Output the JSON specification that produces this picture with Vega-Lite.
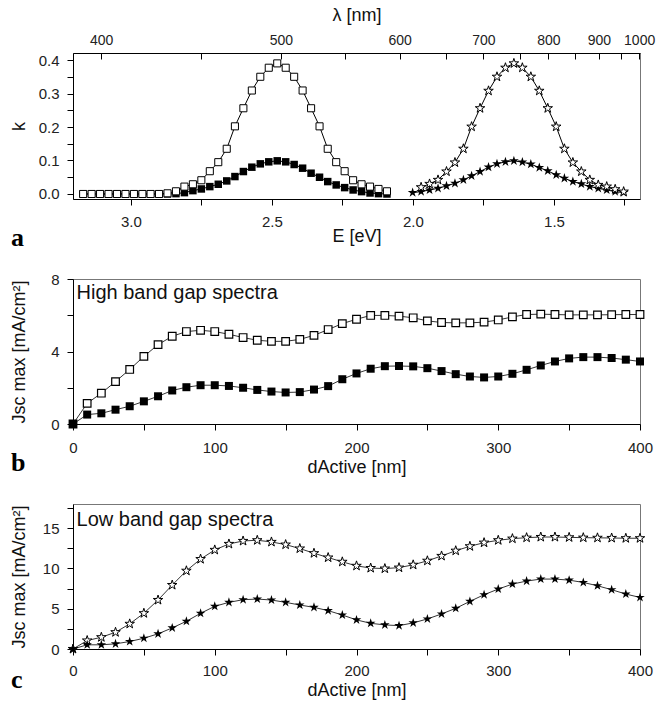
{
"$schema": "https://vega.github.io/schema/vega-lite/v6.json",
"padding": {"left": 9, "top": 5, "right": 5, "bottom": 5},
"background": "white",
"config": {
  "view": {"stroke": "#777", "strokeWidth": 1},
  "axis": {"labelFont": "Liberation Sans", "labelFontSize": 15, "labelColor": "#222", "titleFont": "Liberation Sans", "titleFontSize": 18, "titleFontWeight": "normal", "titleColor": "#111", "domainColor": "#000", "tickColor": "#000", "grid": false, "labelPadding": 8, "tickWidth": 1, "domainWidth": 1, "tickSize": 6, "labelOverlap": false, "labelBound": false, "labelFlush": false},
  "title": {"font": "Liberation Serif", "fontWeight": "bold", "fontSize": 26, "color": "#000"}
},
"datasets": {
  "spectra": [
    {"E":3.169,"k":0,"s":"osq"},{"E":3.139,"k":0,"s":"osq"},{"E":3.109,"k":0,"s":"osq"},{"E":3.079,"k":0,"s":"osq"},{"E":3.049,"k":0,"s":"osq"},{"E":3.019,"k":0,"s":"osq"},{"E":2.989,"k":0,"s":"osq"},{"E":2.959,"k":0,"s":"osq"},{"E":2.930,"k":0,"s":"osq"},{"E":2.900,"k":0,"s":"osq"},{"E":2.870,"k":0.002,"s":"osq"},{"E":2.840,"k":0.008,"s":"osq"},{"E":2.810,"k":0.022,"s":"osq"},{"E":2.780,"k":0.029,"s":"osq"},{"E":2.750,"k":0.041,"s":"osq"},{"E":2.720,"k":0.068,"s":"osq"},{"E":2.690,"k":0.095,"s":"osq"},{"E":2.660,"k":0.135,"s":"osq"},{"E":2.631,"k":0.202,"s":"osq"},{"E":2.601,"k":0.256,"s":"osq"},{"E":2.571,"k":0.309,"s":"osq"},{"E":2.541,"k":0.350,"s":"osq"},{"E":2.511,"k":0.377,"s":"osq"},{"E":2.481,"k":0.390,"s":"osq"},{"E":2.451,"k":0.377,"s":"osq"},{"E":2.421,"k":0.350,"s":"osq"},{"E":2.391,"k":0.309,"s":"osq"},{"E":2.361,"k":0.256,"s":"osq"},{"E":2.331,"k":0.202,"s":"osq"},{"E":2.302,"k":0.135,"s":"osq"},{"E":2.272,"k":0.095,"s":"osq"},{"E":2.242,"k":0.068,"s":"osq"},{"E":2.212,"k":0.041,"s":"osq"},{"E":2.182,"k":0.029,"s":"osq"},{"E":2.152,"k":0.022,"s":"osq"},{"E":2.122,"k":0.015,"s":"osq"},{"E":2.092,"k":0.008,"s":"osq"},
    {"E":3.169,"k":0,"s":"csq"},{"E":3.139,"k":0,"s":"csq"},{"E":3.109,"k":0,"s":"csq"},{"E":3.079,"k":0,"s":"csq"},{"E":3.049,"k":0,"s":"csq"},{"E":3.019,"k":0,"s":"csq"},{"E":2.989,"k":0,"s":"csq"},{"E":2.959,"k":0,"s":"csq"},{"E":2.930,"k":0,"s":"csq"},{"E":2.900,"k":0,"s":"csq"},{"E":2.870,"k":0,"s":"csq"},{"E":2.840,"k":0.001,"s":"csq"},{"E":2.810,"k":0.004,"s":"csq"},{"E":2.780,"k":0.010,"s":"csq"},{"E":2.750,"k":0.015,"s":"csq"},{"E":2.720,"k":0.022,"s":"csq"},{"E":2.690,"k":0.029,"s":"csq"},{"E":2.660,"k":0.039,"s":"csq"},{"E":2.631,"k":0.052,"s":"csq"},{"E":2.601,"k":0.067,"s":"csq"},{"E":2.571,"k":0.080,"s":"csq"},{"E":2.541,"k":0.090,"s":"csq"},{"E":2.511,"k":0.096,"s":"csq"},{"E":2.481,"k":0.099,"s":"csq"},{"E":2.451,"k":0.096,"s":"csq"},{"E":2.421,"k":0.088,"s":"csq"},{"E":2.391,"k":0.077,"s":"csq"},{"E":2.361,"k":0.062,"s":"csq"},{"E":2.331,"k":0.050,"s":"csq"},{"E":2.302,"k":0.037,"s":"csq"},{"E":2.272,"k":0.027,"s":"csq"},{"E":2.242,"k":0.019,"s":"csq"},{"E":2.212,"k":0.012,"s":"csq"},{"E":2.182,"k":0.007,"s":"csq"},{"E":2.152,"k":0.003,"s":"csq"},{"E":2.122,"k":0.001,"s":"csq"},{"E":2.092,"k":0,"s":"csq"},
    {"E":1.971,"k":0.020,"s":"ost"},{"E":1.941,"k":0.030,"s":"ost"},{"E":1.911,"k":0.042,"s":"ost"},{"E":1.881,"k":0.067,"s":"ost"},{"E":1.851,"k":0.094,"s":"ost"},{"E":1.821,"k":0.135,"s":"ost"},{"E":1.792,"k":0.201,"s":"ost"},{"E":1.762,"k":0.256,"s":"ost"},{"E":1.732,"k":0.308,"s":"ost"},{"E":1.702,"k":0.350,"s":"ost"},{"E":1.672,"k":0.377,"s":"ost"},{"E":1.642,"k":0.390,"s":"ost"},{"E":1.612,"k":0.377,"s":"ost"},{"E":1.582,"k":0.350,"s":"ost"},{"E":1.552,"k":0.308,"s":"ost"},{"E":1.522,"k":0.256,"s":"ost"},{"E":1.492,"k":0.201,"s":"ost"},{"E":1.463,"k":0.135,"s":"ost"},{"E":1.433,"k":0.094,"s":"ost"},{"E":1.403,"k":0.067,"s":"ost"},{"E":1.373,"k":0.042,"s":"ost"},{"E":1.343,"k":0.027,"s":"ost"},{"E":1.313,"k":0.022,"s":"ost"},{"E":1.283,"k":0.014,"s":"ost"},{"E":1.253,"k":0.007,"s":"ost"},
    {"E":2.001,"k":0.004,"s":"cst"},{"E":1.971,"k":0.007,"s":"cst"},{"E":1.941,"k":0.012,"s":"cst"},{"E":1.911,"k":0.017,"s":"cst"},{"E":1.881,"k":0.024,"s":"cst"},{"E":1.851,"k":0.032,"s":"cst"},{"E":1.821,"k":0.042,"s":"cst"},{"E":1.792,"k":0.054,"s":"cst"},{"E":1.762,"k":0.067,"s":"cst"},{"E":1.732,"k":0.080,"s":"cst"},{"E":1.702,"k":0.090,"s":"cst"},{"E":1.672,"k":0.096,"s":"cst"},{"E":1.642,"k":0.099,"s":"cst"},{"E":1.612,"k":0.095,"s":"cst"},{"E":1.582,"k":0.089,"s":"cst"},{"E":1.552,"k":0.079,"s":"cst"},{"E":1.522,"k":0.069,"s":"cst"},{"E":1.492,"k":0.057,"s":"cst"},{"E":1.463,"k":0.047,"s":"cst"},{"E":1.433,"k":0.037,"s":"cst"},{"E":1.403,"k":0.030,"s":"cst"},{"E":1.373,"k":0.022,"s":"cst"},{"E":1.343,"k":0.017,"s":"cst"},{"E":1.313,"k":0.012,"s":"cst"},{"E":1.283,"k":0.007,"s":"cst"},{"E":1.253,"k":0.004,"s":"cst"}
  ],
  "high": [
    {"d":0,"J":0,"s":"o"},{"d":10,"J":1.14,"s":"o"},{"d":20,"J":1.70,"s":"o"},{"d":30,"J":2.34,"s":"o"},{"d":40,"J":3.01,"s":"o"},{"d":50,"J":3.73,"s":"o"},{"d":60,"J":4.38,"s":"o"},{"d":70,"J":4.84,"s":"o"},{"d":80,"J":5.10,"s":"o"},{"d":90,"J":5.17,"s":"o"},{"d":100,"J":5.10,"s":"o"},{"d":110,"J":4.95,"s":"o"},{"d":120,"J":4.77,"s":"o"},{"d":130,"J":4.62,"s":"o"},{"d":140,"J":4.56,"s":"o"},{"d":150,"J":4.56,"s":"o"},{"d":160,"J":4.67,"s":"o"},{"d":170,"J":4.89,"s":"o"},{"d":180,"J":5.21,"s":"o"},{"d":190,"J":5.54,"s":"o"},{"d":200,"J":5.78,"s":"o"},{"d":210,"J":5.99,"s":"o"},{"d":220,"J":5.99,"s":"o"},{"d":230,"J":5.95,"s":"o"},{"d":240,"J":5.86,"s":"o"},{"d":250,"J":5.69,"s":"o"},{"d":260,"J":5.60,"s":"o"},{"d":270,"J":5.58,"s":"o"},{"d":280,"J":5.58,"s":"o"},{"d":290,"J":5.62,"s":"o"},{"d":300,"J":5.74,"s":"o"},{"d":310,"J":5.91,"s":"o"},{"d":320,"J":6.04,"s":"o"},{"d":330,"J":6.06,"s":"o"},{"d":340,"J":6.04,"s":"o"},{"d":350,"J":6.02,"s":"o"},{"d":360,"J":6.02,"s":"o"},{"d":370,"J":6.02,"s":"o"},{"d":380,"J":6.03,"s":"o"},{"d":390,"J":6.04,"s":"o"},{"d":400,"J":6.04,"s":"o"},
    {"d":0,"J":0,"s":"c"},{"d":10,"J":0.52,"s":"c"},{"d":20,"J":0.59,"s":"c"},{"d":30,"J":0.79,"s":"c"},{"d":40,"J":0.98,"s":"c"},{"d":50,"J":1.25,"s":"c"},{"d":60,"J":1.53,"s":"c"},{"d":70,"J":1.85,"s":"c"},{"d":80,"J":2.03,"s":"c"},{"d":90,"J":2.14,"s":"c"},{"d":100,"J":2.14,"s":"c"},{"d":110,"J":2.10,"s":"c"},{"d":120,"J":2.00,"s":"c"},{"d":130,"J":1.88,"s":"c"},{"d":140,"J":1.79,"s":"c"},{"d":150,"J":1.74,"s":"c"},{"d":160,"J":1.76,"s":"c"},{"d":170,"J":1.90,"s":"c"},{"d":180,"J":2.09,"s":"c"},{"d":190,"J":2.47,"s":"c"},{"d":200,"J":2.79,"s":"c"},{"d":210,"J":3.05,"s":"c"},{"d":220,"J":3.19,"s":"c"},{"d":230,"J":3.20,"s":"c"},{"d":240,"J":3.18,"s":"c"},{"d":250,"J":3.08,"s":"c"},{"d":260,"J":2.92,"s":"c"},{"d":270,"J":2.75,"s":"c"},{"d":280,"J":2.62,"s":"c"},{"d":290,"J":2.57,"s":"c"},{"d":300,"J":2.62,"s":"c"},{"d":310,"J":2.77,"s":"c"},{"d":320,"J":2.99,"s":"c"},{"d":330,"J":3.23,"s":"c"},{"d":340,"J":3.45,"s":"c"},{"d":350,"J":3.62,"s":"c"},{"d":360,"J":3.69,"s":"c"},{"d":370,"J":3.69,"s":"c"},{"d":380,"J":3.64,"s":"c"},{"d":390,"J":3.55,"s":"c"},{"d":400,"J":3.45,"s":"c"}
  ],
  "low": [
    {"d":0,"J":0,"s":"o"},{"d":10,"J":1.05,"s":"o"},{"d":20,"J":1.46,"s":"o"},{"d":30,"J":2.08,"s":"o"},{"d":40,"J":3.12,"s":"o"},{"d":50,"J":4.44,"s":"o"},{"d":60,"J":6.08,"s":"o"},{"d":70,"J":7.94,"s":"o"},{"d":80,"J":9.71,"s":"o"},{"d":90,"J":11.16,"s":"o"},{"d":100,"J":12.30,"s":"o"},{"d":110,"J":13.04,"s":"o"},{"d":120,"J":13.41,"s":"o"},{"d":130,"J":13.50,"s":"o"},{"d":140,"J":13.29,"s":"o"},{"d":150,"J":12.96,"s":"o"},{"d":160,"J":12.47,"s":"o"},{"d":170,"J":11.89,"s":"o"},{"d":180,"J":11.35,"s":"o"},{"d":190,"J":10.82,"s":"o"},{"d":200,"J":10.32,"s":"o"},{"d":210,"J":10.05,"s":"o"},{"d":220,"J":9.98,"s":"o"},{"d":230,"J":10.10,"s":"o"},{"d":240,"J":10.45,"s":"o"},{"d":250,"J":10.95,"s":"o"},{"d":260,"J":11.55,"s":"o"},{"d":270,"J":12.20,"s":"o"},{"d":280,"J":12.75,"s":"o"},{"d":290,"J":13.20,"s":"o"},{"d":300,"J":13.50,"s":"o"},{"d":310,"J":13.70,"s":"o"},{"d":320,"J":13.82,"s":"o"},{"d":330,"J":13.90,"s":"o"},{"d":340,"J":13.90,"s":"o"},{"d":350,"J":13.86,"s":"o"},{"d":360,"J":13.82,"s":"o"},{"d":370,"J":13.80,"s":"o"},{"d":380,"J":13.78,"s":"o"},{"d":390,"J":13.75,"s":"o"},{"d":400,"J":13.75,"s":"o"},
    {"d":0,"J":0,"s":"c"},{"d":10,"J":0.52,"s":"c"},{"d":20,"J":0.52,"s":"c"},{"d":30,"J":0.64,"s":"c"},{"d":40,"J":0.93,"s":"c"},{"d":50,"J":1.34,"s":"c"},{"d":60,"J":1.88,"s":"c"},{"d":70,"J":2.62,"s":"c"},{"d":80,"J":3.44,"s":"c"},{"d":90,"J":4.43,"s":"c"},{"d":100,"J":5.30,"s":"c"},{"d":110,"J":5.79,"s":"c"},{"d":120,"J":6.12,"s":"c"},{"d":130,"J":6.20,"s":"c"},{"d":140,"J":6.08,"s":"c"},{"d":150,"J":5.79,"s":"c"},{"d":160,"J":5.46,"s":"c"},{"d":170,"J":5.17,"s":"c"},{"d":180,"J":4.76,"s":"c"},{"d":190,"J":4.22,"s":"c"},{"d":200,"J":3.61,"s":"c"},{"d":210,"J":3.19,"s":"c"},{"d":220,"J":2.99,"s":"c"},{"d":230,"J":2.90,"s":"c"},{"d":240,"J":3.24,"s":"c"},{"d":250,"J":3.73,"s":"c"},{"d":260,"J":4.35,"s":"c"},{"d":270,"J":5.05,"s":"c"},{"d":280,"J":5.91,"s":"c"},{"d":290,"J":6.74,"s":"c"},{"d":300,"J":7.44,"s":"c"},{"d":310,"J":8.06,"s":"c"},{"d":320,"J":8.43,"s":"c"},{"d":330,"J":8.68,"s":"c"},{"d":340,"J":8.68,"s":"c"},{"d":350,"J":8.55,"s":"c"},{"d":360,"J":8.26,"s":"c"},{"d":370,"J":7.85,"s":"c"},{"d":380,"J":7.36,"s":"c"},{"d":390,"J":6.82,"s":"c"},{"d":400,"J":6.40,"s":"c"}
  ]
},
"spacing": 80,
"bounds": "flush",
"vconcat": [
  {
    "width": 567, "height": 146,
    "data": {"name": "spectra"},
    "title": {"text": "a", "orient": "bottom", "anchor": "start", "frame": "group", "dx": -62, "offset": -20},
    "resolve": {"axis": {"x": "independent"}},
    "layer": [
      {
        "encoding": {
          "x": {"field": "E", "type": "quantitative", "scale": {"domain": [1.195, 3.205], "reverse": true, "nice": false, "zero": false},
                "axis": {"orient": "bottom", "title": "E [eV]", "values": [3.0, 2.75, 2.5, 2.25, 2.0, 1.75, 1.5, 1.25], "labelExpr": "datum.value*2 % 1 == 0 ? format(datum.value, '.1f') : ''", "labelPadding": 9, "titlePadding": -2}},
          "y": {"field": "k", "type": "quantitative", "scale": {"domain": [-0.015, 0.421], "nice": false, "zero": false},
                "axis": {"title": "k", "values": [0, 0.05, 0.1, 0.15, 0.2, 0.25, 0.3, 0.35, 0.4], "labelExpr": "abs(datum.value*10 - round(datum.value*10)) < 0.01 ? format(datum.value, '.1f') : ''", "titlePadding": 10}}
        },
        "layer": [
          {"transform": [{"filter": "datum.s == 'csq'"}], "mark": {"type": "line", "color": "black", "strokeWidth": 1}, "encoding": {}},
          {"transform": [{"filter": "datum.s == 'csq'"}], "mark": {"type": "point", "shape": "square", "filled": true, "color": "black", "size": 56, "opacity": 1}},
          {"transform": [{"filter": "datum.s == 'osq'"}], "mark": {"type": "line", "color": "black", "strokeWidth": 1}, "encoding": {}},
          {"transform": [{"filter": "datum.s == 'osq'"}], "mark": {"type": "point", "shape": "square", "filled": true, "fill": "white", "stroke": "black", "strokeWidth": 1, "size": 50, "opacity": 1}},
          {"transform": [{"filter": "datum.s == 'cst'"}], "mark": {"type": "line", "color": "black", "strokeWidth": 1}, "encoding": {}},
          {"transform": [{"filter": "datum.s == 'cst'"}], "mark": {"type": "point", "shape": "M0,-1L0.2245,-0.309L0.951,-0.309L0.363,0.118L0.588,0.809L0,0.382L-0.588,0.809L-0.363,0.118L-0.951,-0.309L-0.2245,-0.309Z", "filled": true, "color": "black", "size": 105, "opacity": 1}},
          {"transform": [{"filter": "datum.s == 'ost'"}], "mark": {"type": "line", "color": "black", "strokeWidth": 1}, "encoding": {}},
          {"transform": [{"filter": "datum.s == 'ost'"}], "mark": {"type": "point", "shape": "M0,-1L0.2245,-0.309L0.951,-0.309L0.363,0.118L0.588,0.809L0,0.382L-0.588,0.809L-0.363,0.118L-0.951,-0.309L-0.2245,-0.309Z", "filled": true, "fill": "white", "stroke": "black", "strokeWidth": 1, "size": 100, "opacity": 1}}
        ]
      },
      {
        "mark": {"type": "point", "opacity": 0},
        "encoding": {
          "x": {"field": "E", "type": "quantitative",
                "axis": {"orient": "top", "title": "λ [nm]", "values": [3.105, 2.751, 2.468, 2.239, 2.047, 1.882, 1.75, 1.62, 1.52, 1.426, 1.341, 1.261, 1.198],
                         "labelExpr": "datum.value == 3.105 ? '400' : datum.value == 2.468 ? '500' : datum.value == 2.047 ? '600' : datum.value == 1.75 ? '700' : datum.value == 1.52 ? '800' : datum.value == 1.341 ? '900' : datum.value == 1.198 ? '1000' : ''",
                         "tickSize": -6, "labelPadding": 12, "titlePadding": 9, "labelFontSize": 14}}
        }
      }
    ]
  },
  {
    "width": 567, "height": 145,
    "data": {"name": "high"},
    "title": {"text": "b", "orient": "bottom", "anchor": "start", "frame": "group", "dx": -62, "offset": -26},
    "encoding": {
      "x": {"field": "d", "type": "quantitative", "scale": {"domain": [0, 400], "nice": false},
            "axis": {"title": "dActive [nm]", "values": [0, 50, 100, 150, 200, 250, 300, 350, 400], "labelExpr": "datum.value % 100 == 0 ? datum.value : ''", "labelPadding": 10, "titlePadding": 3}},
      "y": {"field": "J", "type": "quantitative", "scale": {"domain": [0, 8], "nice": false},
            "axis": {"title": "Jsc max [mA/cm²]", "values": [0, 2, 4, 6, 8], "labelExpr": "datum.value % 4 == 0 ? datum.value : ''", "titlePadding": 22}}
    },
    "layer": [
      {"transform": [{"filter": "datum.s == 'o'"}], "mark": {"type": "line", "color": "black", "strokeWidth": 0.8}, "encoding": {}},
      {"transform": [{"filter": "datum.s == 'c'"}], "mark": {"type": "line", "color": "black", "strokeWidth": 0.8}, "encoding": {}},
      {"transform": [{"filter": "datum.s == 'o'"}], "mark": {"type": "point", "shape": "square", "filled": true, "fill": "white", "stroke": "black", "strokeWidth": 1.2, "size": 58, "opacity": 1}},
      {"transform": [{"filter": "datum.s == 'c'"}], "mark": {"type": "point", "shape": "square", "filled": true, "color": "black", "size": 64, "opacity": 1}},
      {"transform": [{"filter": "datum.s == 'o' && datum.d == 0"}], "mark": {"type": "text", "align": "left", "baseline": "top", "font": "Liberation Sans", "fontSize": 20, "fill": "#111"},
       "encoding": {"x": {"datum": 2.5}, "y": {"datum": 7.8}, "text": {"value": "High band gap spectra"}}}
    ]
  },
  {
    "width": 567, "height": 145,
    "data": {"name": "low"},
    "title": {"text": "c", "orient": "bottom", "anchor": "start", "frame": "group", "dx": -62, "offset": -32},
    "encoding": {
      "x": {"field": "d", "type": "quantitative", "scale": {"domain": [0, 400], "nice": false},
            "axis": {"title": "dActive [nm]", "values": [0, 50, 100, 150, 200, 250, 300, 350, 400], "labelExpr": "datum.value % 100 == 0 ? datum.value : ''", "labelPadding": 8, "titlePadding": 3}},
      "y": {"field": "J", "type": "quantitative", "scale": {"domain": [0, 18], "nice": false},
            "axis": {"title": "Jsc max [mA/cm²]", "values": [0, 2.5, 5, 7.5, 10, 12.5, 15, 17.5], "labelExpr": "datum.value % 5 == 0 ? datum.value : ''", "titlePadding": 14}}
    },
    "layer": [
      {"transform": [{"filter": "datum.s == 'o'"}], "mark": {"type": "line", "color": "black", "strokeWidth": 0.8}, "encoding": {}},
      {"transform": [{"filter": "datum.s == 'c'"}], "mark": {"type": "line", "color": "black", "strokeWidth": 0.8}, "encoding": {}},
      {"transform": [{"filter": "datum.s == 'o'"}], "mark": {"type": "point", "shape": "M0,-1L0.2245,-0.309L0.951,-0.309L0.363,0.118L0.588,0.809L0,0.382L-0.588,0.809L-0.363,0.118L-0.951,-0.309L-0.2245,-0.309Z", "filled": true, "fill": "white", "stroke": "black", "strokeWidth": 1, "size": 100, "opacity": 1}},
      {"transform": [{"filter": "datum.s == 'c'"}], "mark": {"type": "point", "shape": "M0,-1L0.2245,-0.309L0.951,-0.309L0.363,0.118L0.588,0.809L0,0.382L-0.588,0.809L-0.363,0.118L-0.951,-0.309L-0.2245,-0.309Z", "filled": true, "color": "black", "size": 100, "opacity": 1}},
      {"transform": [{"filter": "datum.s == 'o' && datum.d == 0"}], "mark": {"type": "text", "align": "left", "baseline": "top", "font": "Liberation Sans", "fontSize": 20, "fill": "#111"},
       "encoding": {"x": {"datum": 2.5}, "y": {"datum": 17.2}, "text": {"value": "Low band gap spectra"}}}
    ]
  }
]
}
